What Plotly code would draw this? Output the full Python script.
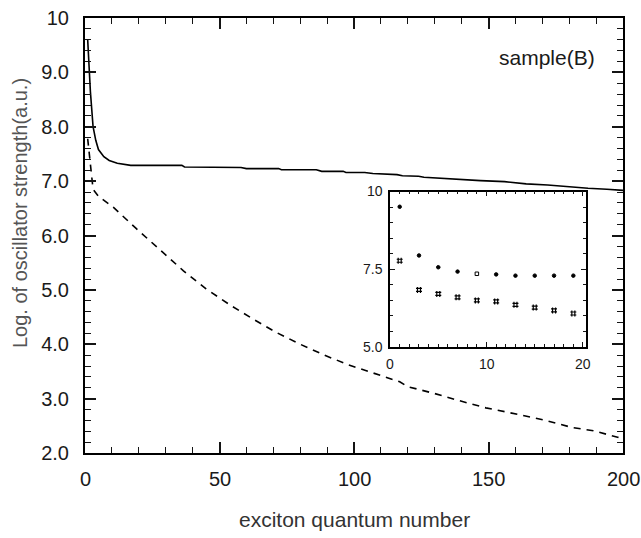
import plotly.graph_objects as go

# ---- data ----
solid_x = [1, 2, 3, 4, 5, 7, 9, 12, 17, 36, 37, 58, 60, 72, 73, 86, 88, 96, 97, 104,
           107, 116, 118, 124, 126, 132, 139, 147, 156, 164, 172, 179, 187, 194, 200]
solid_y = [9.6, 8.65, 8.0, 7.75, 7.58, 7.45, 7.38, 7.33, 7.29, 7.29, 7.26, 7.25, 7.23, 7.23, 7.21,
           7.21, 7.18, 7.18, 7.16, 7.16, 7.14, 7.12, 7.10, 7.09, 7.07, 7.05, 7.03, 7.01, 6.99,
           6.95, 6.93, 6.90, 6.87, 6.85, 6.83]

dash_x = [1, 3, 5, 10.5, 19, 28, 36.6, 45, 54, 62.6, 71, 80, 89, 98, 108, 117, 120,
          129.5, 140, 149, 161, 172, 181, 189, 198, 200]
dash_y = [7.78, 6.85, 6.72, 6.52, 6.13, 5.74, 5.35, 5.02, 4.72, 4.46, 4.22, 4.0, 3.80,
          3.62, 3.46, 3.31, 3.22, 3.10, 2.95, 2.83, 2.71, 2.59, 2.47, 2.41, 2.29, 2.25]

inset_x = [1, 3, 5, 7, 9, 11, 13, 15, 17, 19]
inset_a = [9.51, 7.94, 7.56, 7.42, 7.35, 7.33, 7.29, 7.29, 7.29, 7.29]
inset_b = [7.77, 6.83, 6.70, 6.59, 6.49, 6.46, 6.35, 6.26, 6.17, 6.07]

main_xticks = [0, 50, 100, 150, 200]
main_yticks = [2, 3, 4, 5, 6, 7, 8, 9, 10]
main_ytext = ["2.0", "3.0", "4.0", "5.0", "6.0", "7.0", "8.0", "9.0", "10"]
inset_xticks = [0, 10, 20]
inset_yticks = [5, 7.5, 10]
inset_ytext = ["5.0", "7.5", "10"]

FONT = "Liberation Sans, Arial, sans-serif"
INK = "#141414"

fig = go.Figure()
fig.add_trace(go.Scatter(x=solid_x, y=solid_y, mode="lines",
                         line=dict(color="black", width=1.6)))
fig.add_trace(go.Scatter(x=dash_x, y=dash_y, mode="lines",
                         line=dict(color="black", width=1.6, dash="7px,6px")))
fig.add_trace(go.Scatter(x=inset_x, y=inset_a, mode="markers",
                         marker=dict(symbol=["circle"] * 4 + ["square-open"] + ["circle"] * 5,
                                     size=3.5, color="black", line=dict(color="black", width=1)),
                         xaxis="x2", yaxis="y2"))
fig.add_trace(go.Scatter(x=inset_x, y=inset_b, mode="markers",
                         marker=dict(symbol="hash-open", size=6, color="black",
                                     line=dict(color="black", width=1.2)),
                         xaxis="x2", yaxis="y2"))


def ax(**kw):
    base = dict(showgrid=False, zeroline=False, showline=True, linecolor="black",
                mirror="allticks", ticks="inside")
    base.update(kw)
    return base


annotations = [
    dict(text=str(v), xref="x", yref="paper", x=v, y=(453 - 480) / 446, showarrow=False,
         xanchor="center", yanchor="middle", font=dict(size=20, color="#1a1a1a", family=FONT))
    for v in main_xticks
] + [
    dict(text=str(v), xref="x2", yref="paper", x=v, y=(453 - 362) / 446, showarrow=False,
         xanchor="center", yanchor="middle", font=dict(size=14, color="#1a1a1a", family=FONT))
    for v in inset_xticks
] + [
    dict(text="sample(B)", xref="paper", yref="paper", x=(547 - 85) / 538, y=(453 - 47) / 446,
         showarrow=False, xanchor="center", yanchor="middle",
         font=dict(size=21, color="#1a1a1a", family=FONT)),
    dict(text="exciton quantum number", xref="paper", yref="paper", x=(354 - 85) / 538,
         y=(453 - 521) / 446, showarrow=False, xanchor="center", yanchor="middle",
         font=dict(size=21, color="#333333", family=FONT)),
    dict(text="Log. of oscillator strength(a.u.)", xref="paper", yref="paper",
         x=(20 - 85) / 538, y=(453 - 207) / 446, textangle=-90, showarrow=False,
         xanchor="center", yanchor="middle",
         font=dict(size=20, color="#555555", family=FONT)),
]

fig.update_layout(
    width=641, height=538, margin=dict(l=85, r=18, t=7, b=85),
    paper_bgcolor="white", plot_bgcolor="white", showlegend=False,
    xaxis=ax(range=[0, 200], tickvals=main_xticks, ticklen=11, tickwidth=1.5, linewidth=2,
             tickcolor=INK, showticklabels=False,
             minor=dict(ticks="inside", dtick=10, ticklen=6, tickwidth=1.2, tickcolor=INK)),
    yaxis=ax(range=[2, 10], tickvals=main_yticks, ticktext=main_ytext, ticklen=11, tickwidth=1.5,
             linewidth=2, tickcolor=INK, tickfont=dict(size=20, color="#1a1a1a", family=FONT),
             ticklabelstandoff=10,
             minor=dict(ticks="inside", dtick=0.2, ticklen=6, tickwidth=1.2, tickcolor=INK)),
    xaxis2=ax(domain=[0.567, 0.931], anchor="y2", range=[0, 20.3], tickvals=inset_xticks,
              ticklen=5, tickwidth=1.2, linewidth=1.5, tickcolor=INK, showticklabels=False,
              minor=dict(ticks="inside", dtick=1, ticklen=3, tickwidth=1, tickcolor=INK)),
    yaxis2=ax(domain=[0.2444, 0.601], anchor="x2", range=[5, 10], tickvals=inset_yticks,
              ticktext=inset_ytext, ticklen=5, tickwidth=1.2, linewidth=1.5, tickcolor=INK,
              tickfont=dict(size=14, color="#1a1a1a", family=FONT), ticklabelstandoff=3,
              minor=dict(ticks="inside", dtick=0.5, ticklen=3, tickwidth=1, tickcolor=INK)),
    annotations=annotations,
)

fig.write_html("out.html")
